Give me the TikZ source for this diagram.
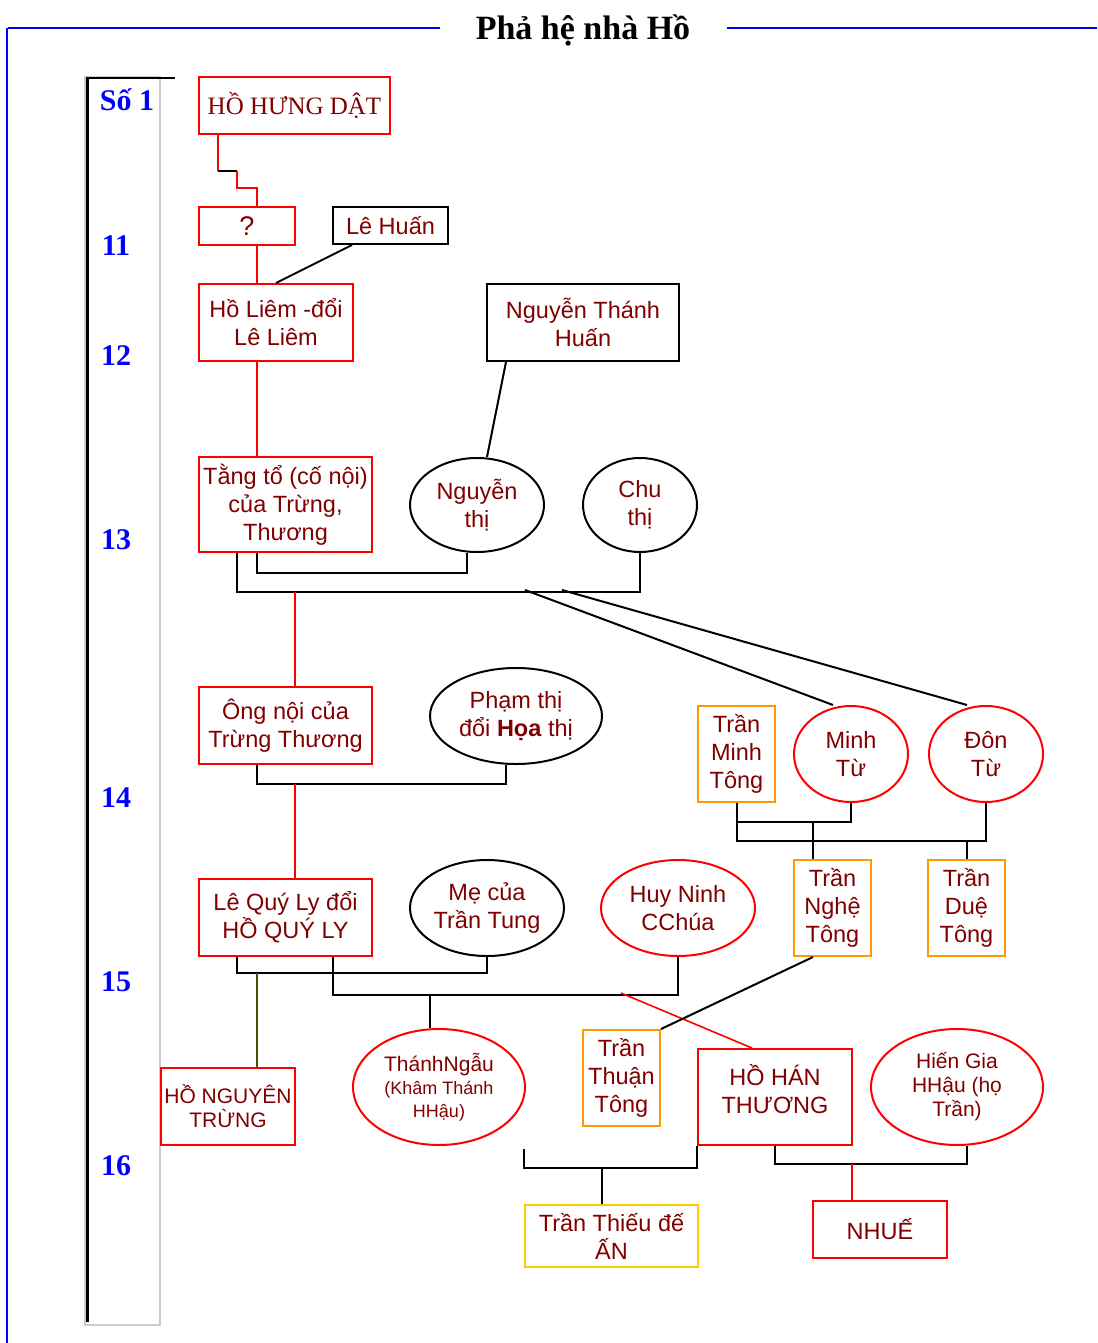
\documentclass[tikz,border=0pt]{standalone}
\usepackage{fontspec}
\setmainfont{Liberation Sans}
\newfontfamily\serifvn{Liberation Serif}
\usetikzlibrary{shapes.geometric, positioning}

\definecolor{darkred}{RGB}{128,0,0}
\definecolor{boxred}{RGB}{255,0,0}
\definecolor{boxorange}{RGB}{255,153,0}
\definecolor{boxyellow}{RGB}{255,204,0}
\definecolor{lvlblue}{RGB}{0,0,255}
\definecolor{oliveline}{RGB}{77,77,0}

\begin{document}
\begin{tikzpicture}[x=1pt, y=-1pt,
    base/.style={line width=2pt, text=darkred, align=center, inner sep=1pt,
                 font=\fontsize{23.5}{28}\selectfont},
    redbox/.style={base, draw=boxred, rectangle},
    blackbox/.style={base, draw=black, rectangle},
    orangebox/.style={base, draw=boxorange, rectangle, minimum width=77pt, minimum height=96pt},
    yellowbox/.style={base, draw=boxyellow, rectangle},
    wife/.style={base, draw=black, ellipse, inner sep=0pt},
    redwife/.style={base, draw=boxred, ellipse, inner sep=0pt},
    kin/.style={draw=black, line width=2pt},
    redline/.style={draw=boxred, line width=1.6pt},
    level/.style={text=lvlblue, font=\serifvn\bfseries\fontsize{30}{32}\selectfont}]
\useasboundingbox (0,0) rectangle (1097,1343);

% frame and title
\draw[lvlblue, line width=2pt] (8,28) -- (440,28);
\draw[lvlblue, line width=2pt] (727,28) -- (1097,28);
\draw[lvlblue, line width=2pt] (7,28) -- (7,1343);
\node[font=\serifvn\bfseries\fontsize{34}{38}\selectfont] (title) at (583,30) {Phả hệ nhà Hồ};

% generation column
\draw[black!20, line width=2pt] (85,77) rectangle (160,1325);
\draw[black, line width=3pt] (87,78) -- (87,1322);
\draw[black, line width=2pt] (86,78) -- (175,78);
\node[level] (g1) at (127,100) {Số 1};
\node[level] (g11) at (116,246) {11};
\node[level] (g12) at (116,356) {12};
\node[level] (g13) at (116,540) {13};
\node[level] (g14) at (116,798) {14};
\node[level] (g15) at (116,982) {15};
\node[level] (g16) at (116,1166) {16};

\begin{scope}
    \node[redbox, minimum width=191pt, minimum height=57pt,
          font=\serifvn\fontsize{25}{28}\selectfont] (HHD) at (294.5,105.5) {HỒ HƯNG DẬT};
    \node[redbox, minimum width=96pt, minimum height=38pt,
          font=\fontsize{27}{28}\selectfont] (Q) at (247,226) {?};
    \node[blackbox, minimum width=115pt, minimum height=37pt] (LeHuan) at (390.5,225.5) {Lê Huấn};
    \node[redbox, minimum width=154pt, minimum height=77pt] (HoLiem) at (276,322.5) {Hồ Liêm -đổi\\Lê Liêm};
    \node[blackbox, minimum width=192pt, minimum height=77pt] (NguyenTH) at (583,322.5) {Nguyễn Thánh\\Huấn};

    \node[redbox, minimum width=173pt, minimum height=95pt] (TangTo) at (285.5,504.5) {Tằng tổ (cố nội)\\của Trừng,\\Thương};
    \node[wife, minimum width=134pt, minimum height=94pt] (NguyenThi) at (477,505) {Nguyễn\\thị};
    \node[wife, minimum width=114pt, minimum height=94pt] (ChuThi) at (640,505) {Chu\\thị};

    \node[redbox, minimum width=173pt, minimum height=77pt] (OngNoi) at (285.5,725.5) {Ông nội của\\Trừng Thương};
    \node[wife, minimum width=172pt, minimum height=96pt] (PhamThi) at (516,716) {Phạm thị\\đổi \textbf{Họa} thị};
    \node[orangebox] (TranMinhTong) at (736.5,754) {Trần\\Minh\\Tông};
    \node[redwife, minimum width=114pt, minimum height=96pt] (MinhTu) at (851,754) {Minh\\Từ};
    \node[redwife, minimum width=114pt, minimum height=96pt] (DonTu) at (986,754) {Đôn\\Từ};

    \node[redbox, minimum width=173pt, minimum height=77pt] (LeQuyLy) at (285.5,917.5) {Lê Quý Ly đổi\\HỒ QUÝ LY};
    \node[wife, minimum width=154pt, minimum height=96pt] (MeCua) at (487,908) {Mẹ của\\Trần Tung};
    \node[redwife, minimum width=154pt, minimum height=96pt] (HuyNinh) at (678,908) {Huy Ninh\\CChúa};
    \node[orangebox] (TranNgheTong) at (832.5,908) {Trần\\Nghệ\\Tông};
    \node[orangebox] (TranDueTong) at (966.5,908) {Trần\\Duệ\\Tông};

    \node[redbox, minimum width=134pt, minimum height=77pt,
          font=\fontsize{21}{24}\selectfont] (HoNguyenTrung) at (228,1106.5) {HỒ NGUYÊN\\TRỪNG};
    \node[redwife, minimum width=172pt, minimum height=116pt, font=\fontsize{18}{23}\selectfont] (ThanhNgau) at (439,1087)
        {{\fontsize{21}{23}\selectfont ThánhNgẫu}\\(Khâm Thánh\\HHậu)};
    \node[orangebox] (TranThuanTong) at (621.5,1078) {Trần\\Thuận\\Tông};
    \node[redbox, minimum width=154pt, minimum height=96pt,
          label={[base, yshift=8pt]center:{HỒ HÁN\\THƯƠNG}}] (HoHanThuong) at (775,1097) {};
    \node[redwife, minimum width=172pt, minimum height=116pt,
          font=\fontsize{21}{24}\selectfont] (HienGia) at (957,1087) {Hiến Gia\\HHậu (họ\\Trần)};

    \node[yellowbox, minimum width=173pt, minimum height=62pt] (TranThieuDe) at (611.5,1236) {Trần Thiếu đế\\ẤN};
    \node[redbox, minimum width=134pt, minimum height=57pt] (Nhue) at (880,1229.5) {NHUẾ};
\end{scope}

% lines of descent
\draw[redline] ([xshift=-76.5pt]HHD.south) -- ++(0,36) coordinate (s1);
\draw[kin] (s1) -- ++(19,0) coordinate (s2);
\draw[redline] (s2) -- ++(0,17) -| ([xshift=10pt]Q.north);
\draw[redline] ([xshift=10pt]Q.south) -- ([xshift=-19pt]HoLiem.north);
\draw[kin] ([xshift=-38.5pt]LeHuan.south) -- (HoLiem.north);
\draw[redline] ([xshift=-19pt]HoLiem.south) -- ([xshift=-28.5pt]TangTo.north);
\draw[kin] ([xshift=-77pt]NguyenTH.south) -- ([xshift=10pt]NguyenThi.north);

% generation 13
\draw[kin] ([xshift=-28.5pt]TangTo.south) -- ++(0,20) -| ([xshift=-10pt]NguyenThi.south);
\draw[kin] ([xshift=-48.5pt]TangTo.south) -- ++(0,39) coordinate (bar13) -| (ChuThi.south);
\coordinate (ongTop) at ([xshift=9.5pt]OngNoi.north);
\draw[redline] (ongTop |- bar13) -- (ongTop);
\draw[kin] ([xshift=-18pt]MinhTu.north) -- ++(-308,-115);
\draw[kin] ([xshift=-19pt]DonTu.north) -- ++(-405,-115);

% generation 14
\draw[kin] ([xshift=-28.5pt]OngNoi.south) -- ++(0,19) coordinate (bar14) -| ([xshift=-10pt]PhamThi.south);
\coordinate (lqlTop) at ([xshift=9.5pt]LeQuyLy.north);
\draw[redline] (lqlTop |- bar14) -- (lqlTop);
\draw[kin] (TranMinhTong.south) -- ++(0,19) coordinate (bar14a) -| (MinhTu.south);
\draw[kin] (TranMinhTong.south) -- ++(0,38) coordinate (bar14b) -| (DonTu.south);
\coordinate (tntTop) at ([xshift=-19.5pt]TranNgheTong.north);
\draw[kin] (tntTop |- bar14a) -- (tntTop);
\draw[kin] (TranDueTong.north |- bar14b) -- (TranDueTong.north);

% generation 15
\draw[kin] ([xshift=-48.5pt]LeQuyLy.south) -- ++(0,16) coordinate (bar15a) -| (MeCua.south);
\draw[kin] ([xshift=47.5pt]LeQuyLy.south) -- ++(0,38) coordinate (bar15b) -| (HuyNinh.south);
\coordinate (hntTop) at ([xshift=29pt]HoNguyenTrung.north);
\draw[oliveline, line width=1.6pt] (hntTop |- bar15a) -- (hntTop);
\coordinate (tngTop) at ([xshift=-9pt]ThanhNgau.north);
\draw[kin] (tngTop |- bar15b) -- (tngTop);
\draw[redline] ([xshift=-23pt]HoHanThuong.north) -- ++(-131,-55);
\draw[kin] ([xshift=-19.5pt]TranNgheTong.south) -- (TranThuanTong.north east);

% generation 16
\draw[kin] (HoHanThuong.south west) -- ++(0,22) coordinate (bar16a) -| ++(-173,-19);
\coordinate (ttdTop) at ([xshift=-9.5pt]TranThieuDe.north);
\draw[kin] (ttdTop |- bar16a) -- (ttdTop);
\draw[kin] (HoHanThuong.south) -- ++(0,18) coordinate (bar16b) -| ([xshift=10pt]HienGia.south);
\coordinate (nhTop) at ([xshift=-28pt]Nhue.north);
\draw[redline] (nhTop |- bar16b) -- (nhTop);
\end{tikzpicture}
\end{document}
